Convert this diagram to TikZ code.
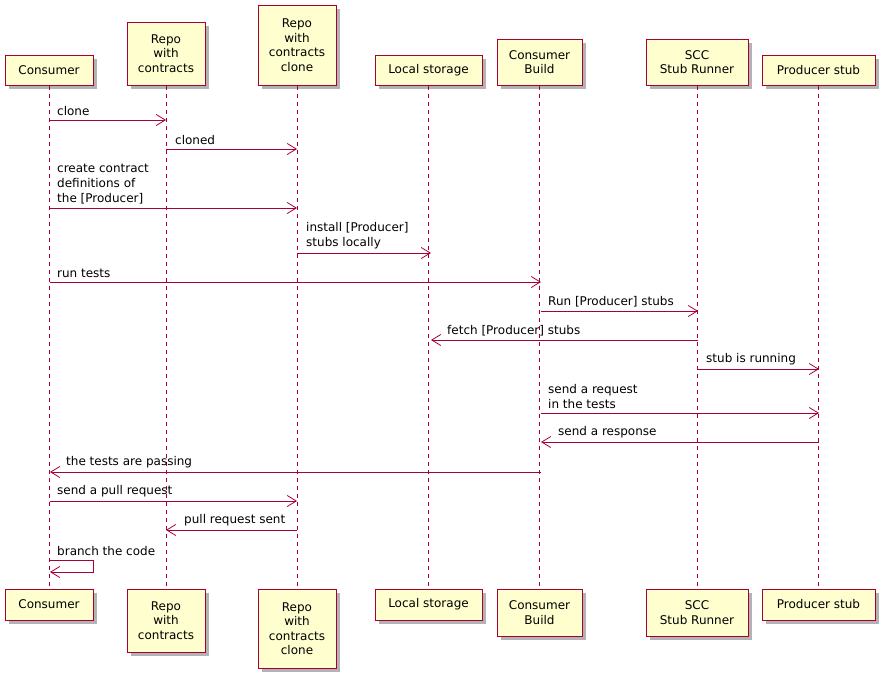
\documentclass[tikz,border=0pt]{standalone}
\usepackage{fontspec}
\setmainfont{DejaVu Sans}
\usetikzlibrary{arrows.meta,shadows}
\definecolor{pf}{HTML}{FEFECE}
\definecolor{pr}{HTML}{A80036}
\begin{document}
\begin{tikzpicture}[x=1pt,y=-1pt,
 part/.style={draw=pr,fill=pf,line width=1pt,drop shadow={shadow xshift=4pt,shadow yshift=-4pt,fill=black!50,opacity=0.6},font=\fontsize{12}{14.5}\selectfont,align=center,inner sep=0},
 life/.style={draw=pr,dash pattern=on 4pt off 4pt,line width=0.7pt},
 msg/.style={draw=pr,line width=0.8pt,-{Straight Barb[length=9pt,width=11pt]}},
 lab/.style={font=\fontsize{12}{15}\selectfont,align=left,anchor=south west,inner sep=0}]
\useasboundingbox (0,0) rectangle (886,681);
\newcommand\pbox[6]{% name x1 y1 x2 y2 text
 \node[part,minimum width=#4-#2,minimum height=#5-#3] (#1) at ({(#2+#4)/2},{(#3+#5)/2}) {#6};}
\pbox{c}{5}{55}{93}{85}{Consumer}
\pbox{r}{127}{22}{205}{85}{Repo\\with\\contracts}
\pbox{rc}{258}{5}{336}{85}{Repo\\with\\contracts\\clone}
\pbox{ls}{375}{55}{482}{85}{Local storage}
\pbox{cb}{497}{39}{582}{85}{Consumer\\Build}
\pbox{scc}{646}{39}{748}{85}{SCC\\Stub Runner}
\pbox{ps}{762}{55}{875}{85}{Producer stub}
\pbox{c2}{5}{589}{93}{620}{Consumer}
\pbox{r2}{127}{589}{205}{652}{Repo\\with\\contracts}
\pbox{rc2}{258}{589}{336}{668}{Repo\\with\\contracts\\clone}
\pbox{ls2}{375}{589}{482}{620}{Local storage}
\pbox{cb2}{497}{589}{582}{636}{Consumer\\Build}
\pbox{scc2}{646}{589}{748}{636}{SCC\\Stub Runner}
\pbox{ps2}{762}{589}{875}{620}{Producer stub}
\foreach \a/\b in {c/c2,r/r2,rc/rc2,ls/ls2,cb/cb2,scc/scc2,ps/ps2}
 \draw[life] (\a.south) -- (\b.north);
\newcommand\m[5]{% y xfrom xto labelx text
 \coordinate (f#1) at (#2,#1); \coordinate (t#1) at (#3,#1);
 \draw[msg] (f#1) -- (t#1);
 \node[lab] at (#4,#1-4) {#5};}
\m{120}{50}{166}{57}{clone}
\m{149}{166}{297}{175}{cloned}
\m{208}{50}{297}{57}{create contract\\definitions of\\the [Producer]}
\m{253}{297}{431}{306}{install [Producer]\\stubs locally}
\m{282}{50}{541}{57}{run tests}
\m{311}{541}{698}{548}{Run [Producer] stubs}
\m{340}{698}{431}{447}{fetch [Producer] stubs}
\m{369}{698}{819}{706}{stub is running}
\m{413}{541}{819}{548}{send a request\\in the tests}
\m{442}{819}{541}{558}{send a response}
\m{472}{541}{50}{66}{the tests are passing}
\m{501}{50}{297}{57}{send a pull request}
\m{530}{297}{166}{184}{pull request sent}
\coordinate (s1) at (50,560); \coordinate (s2) at (93,560);
\coordinate (s3) at (93,572); \coordinate (s4) at (50,572);
\draw[msg] (s1) -- (s2) -- (s3) -- (s4);
\node[lab] at (57,556) {branch the code};
\end{tikzpicture}
\end{document}
